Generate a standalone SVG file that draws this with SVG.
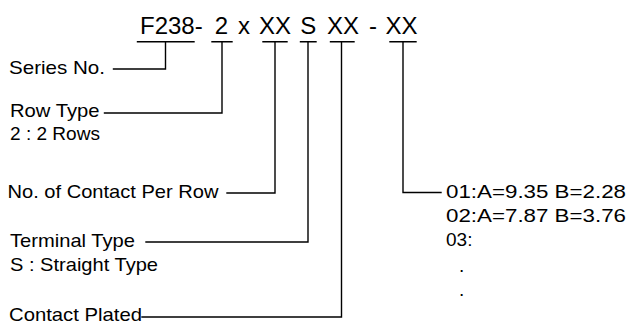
<svg xmlns="http://www.w3.org/2000/svg" width="629" height="323" viewBox="0 0 629 323">
<style>
text{font-family:"Liberation Sans",Arial,sans-serif;fill:#000}
.t{font-size:24px}
.l{font-size:19px}
.m{text-anchor:middle}
.c{stroke:#000;stroke-width:1.4;fill:none;stroke-linecap:square}
</style>
<rect width="629" height="323" fill="#fff"/>
<g id="code">
<text class="t" x="140" y="33.5">F238-</text>
<text class="t m" x="221.5" y="33.5">2</text>
<text class="t m" x="244" y="33.5">x</text>
<text class="t m" x="275" y="33.5">XX</text>
<text class="t m" x="308.3" y="33.5">S</text>
<text class="t m" x="343" y="33.5">XX</text>
<text class="t m" x="373" y="33.5">-</text>
<text class="t m" x="401.5" y="33.5">XX</text>
</g>
<g id="series"><text class="l" x="9" y="73.5" textLength="96" lengthAdjust="spacingAndGlyphs">Series No.</text></g>
<g id="rowtype">
<text class="l" x="10" y="116.5" textLength="89.5" lengthAdjust="spacingAndGlyphs">Row Type</text>
<text class="l" x="10" y="139.5" textLength="90" lengthAdjust="spacingAndGlyphs">2 : 2 Rows</text>
</g>
<g id="contacts"><text class="l" x="7.5" y="198" textLength="211" lengthAdjust="spacingAndGlyphs">No. of Contact Per Row</text></g>
<g id="terminal">
<text class="l" x="10" y="246.5" textLength="125" lengthAdjust="spacingAndGlyphs">Terminal Type</text>
<text class="l" x="10" y="270.5" textLength="148" lengthAdjust="spacingAndGlyphs">S : Straight Type</text>
</g>
<g id="plated"><text class="l" x="9" y="320.5" textLength="133" lengthAdjust="spacingAndGlyphs">Contact Plated</text></g>
<g id="dimensions">
<text class="l" x="446" y="198" textLength="180" lengthAdjust="spacingAndGlyphs">01:A=9.35 B=2.28</text>
<text class="l" x="446" y="222" textLength="180" lengthAdjust="spacingAndGlyphs">02:A=7.87 B=3.76</text>
<text class="l" x="446" y="246">03:</text>
<text class="l" x="459" y="272">.</text>
<text class="l" x="459" y="296">.</text>
</g>
<g id="connectors" class="c">
<path d="M137.5 41.7H194M165.5 41.7V69H113.5"/>
<path d="M212 41.7H232M222 41.7V113H104.5"/>
<path d="M263 41.7H287M275 41.7V193H227"/>
<path d="M300.5 41.7H316M308 41.7V242H146"/>
<path d="M330.5 41.7H354M341.5 41.7V317H142"/>
<path d="M390 41.7H416M403 41.7V192.5H441"/>
</g>
</svg>
